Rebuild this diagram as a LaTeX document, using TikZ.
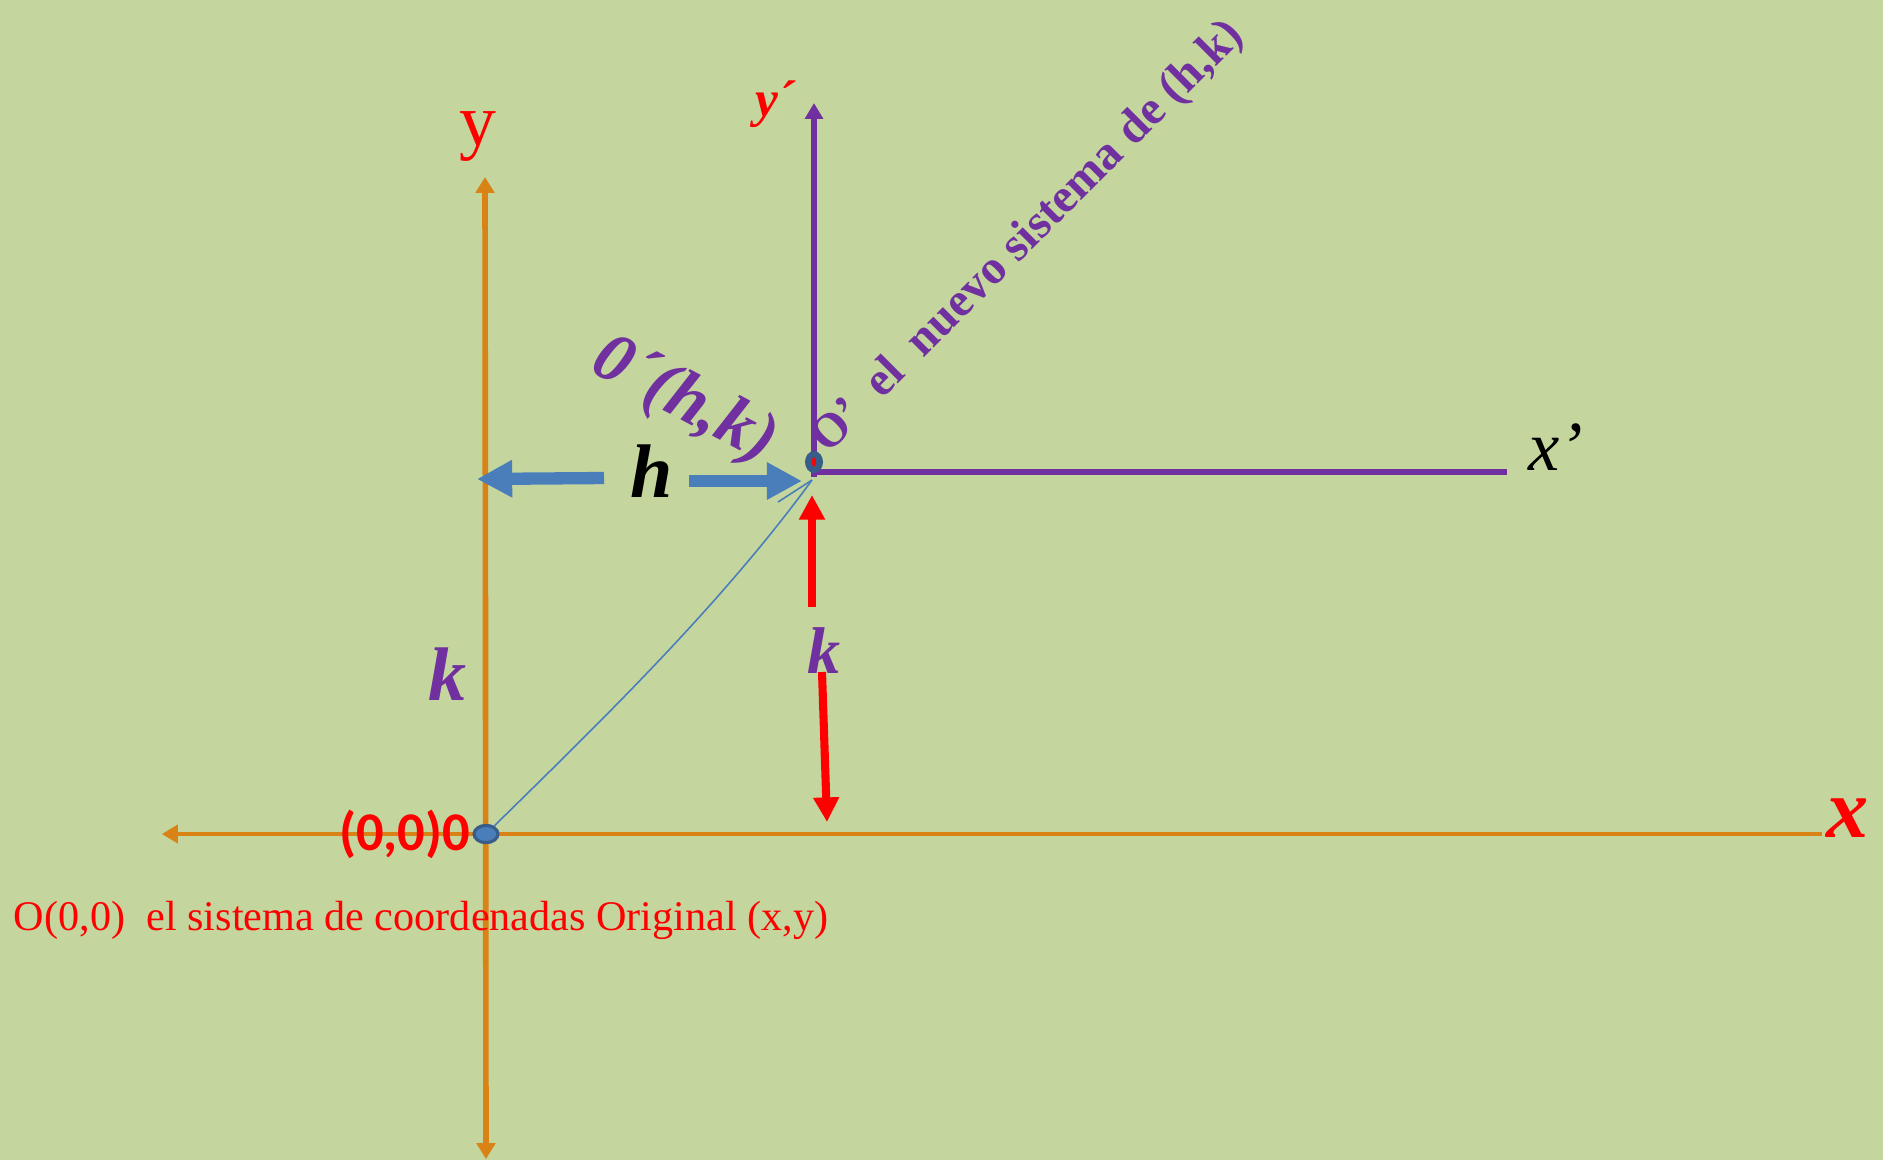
\documentclass[tikz,border=0pt]{standalone}
\usepackage{fontspec}
\setmainfont{Liberation Serif}
\newfontfamily\calfont{Carlito}
\usetikzlibrary{arrows.meta, positioning, shapes.geometric}

\definecolor{fondo}{RGB}{196,214,158}
\definecolor{naranja}{RGB}{217,131,22}
\definecolor{morado}{RGB}{112,48,160}
\definecolor{azul}{RGB}{74,126,187}
\definecolor{azulosc}{RGB}{56,93,138}

\begin{document}
\begin{tikzpicture}[
  x=0.01cm, y=-0.01cm,
  oaxis/.style={naranja, line width=#1},
  otip/.tip={Triangle[length=4.5pt, width=5.2pt]},
  newaxis/.style={morado, line width=1.7pt},
  harrow/.style={azul, line width=3.5pt, -{Triangle[length=10pt, width=10pt]}},
  karrow/.style={red, line width=2.3pt, -{Triangle[length=7pt, width=7pt]}},
  dot/.style={ellipse, draw=azulosc, line width=0.9pt, inner sep=0pt},
  lbl/.style={inner sep=0pt, outer sep=0pt}
]
  % fondo
  \fill[fondo] (0,0) rectangle (1883,1160);
  \useasboundingbox (0,0) rectangle (1883,1160);

  % sistema original
  \coordinate (ytop) at (485,177);
  \coordinate (ybot) at (486,1159);
  \coordinate (xizq) at (162,834);
  \coordinate (xder) at (1822,834);
  \draw[oaxis=1.6pt, otip-otip] (ybot) -- (ytop);
  \draw[oaxis=0.9pt, -otip] (xder) -- (xizq);

  % sistema nuevo
  \coordinate (yptop) at (814,103);
  \coordinate (xpder) at (1507,472);
  \draw[newaxis, -{Triangle[length=4.5pt, width=5pt]}] (814,477) -- (yptop);
  \draw[newaxis] (812,472) -- (xpder);

  % puntos de los dos sistemas
  \node[dot, fill=azul, minimum width=6.8pt, minimum height=4.9pt] (O) at (486,834) {};
  \node[dot, fill=azulosc, minimum width=4.2pt, minimum height=5.3pt] (Op) at (814,462) {};
  \node[ellipse, fill=red, inner sep=0pt, minimum width=1.2pt, minimum height=2.8pt] (Opin) at (Op) {};

  % curva de O a O'
  \draw[azul, line width=0.45pt] (O) .. controls (600,722) and (720,606) .. (812,480);
  \coordinate (tick) at (778,502);
  \draw[azul, line width=0.45pt] (812,480) -- (tick);

  % flechas h
  \coordinate (hizq) at (477,479);
  \coordinate (hizq0) at (604,478);
  \coordinate (hder0) at (689,481);
  \coordinate (hder) at (802,481);
  \draw[harrow] (hizq0) -- (hizq);
  \draw[harrow] (hder0) -- (hder);

  % flechas k
  \coordinate (ku0) at (812,607);
  \coordinate (ku) at (812,495);
  \coordinate (kd0) at (822,672);
  \coordinate (kd) at (827,822);
  \draw[karrow] (ku0) -- (ku);
  \draw[karrow] (kd0) -- (kd);

  % etiquetas
  \node[lbl, red, anchor=base, font=\fontsize{21pt}{24pt}\selectfont] (ylab) at (478,145) {y};
  \node[lbl, red, anchor=base west, font=\fontsize{14.6pt}{17pt}\selectfont\bfseries\itshape] (yplab) at (755,116) {y´};
  \node[lbl, anchor=base west, font=\fontsize{20pt}{24pt}\selectfont\itshape] (xplab) at (1528,470) {x’};
  \node[lbl, red, anchor=base west, font=\fontsize{24pt}{28pt}\selectfont\bfseries\itshape] (xlab) at (1826,837) {x};
  \node[lbl, anchor=base, font=\fontsize{21.6pt}{25pt}\selectfont\bfseries\itshape] (hlab) at (652,497) {h};
  \node[lbl, morado, anchor=base, font=\fontsize{18.8pt}{22pt}\selectfont\bfseries\itshape] (kder) at (824,673) {k};
  \node[lbl, morado, anchor=base, font=\fontsize{21.6pt}{25pt}\selectfont\bfseries\itshape] (kizq) at (447,700) {k};
  \node[lbl, red, anchor=base east, font=\fontsize{15.5pt}{18pt}\calfont\bfseries] (origlab) at (470,850) {(0,0)0};
  \node[lbl, morado, rotate=-28, font=\fontsize{20pt}{24pt}\selectfont\bfseries\itshape] (oplab) at (684,402) {0´(h,k)};
  \node[lbl, morado, rotate=45, anchor=base west, font=\fontsize{13.6pt}{16pt}\selectfont\bfseries] (nuevo) at (828,454) {O’\ \ el\ \ nuevo sistema de (h,k)};
  \node[lbl, red, anchor=base west, font=\fontsize{12pt}{14pt}\selectfont] (original) at (14,930) {O(0,0)\ \ el sistema de coordenadas Original (x,y)};
\end{tikzpicture}
\end{document}
